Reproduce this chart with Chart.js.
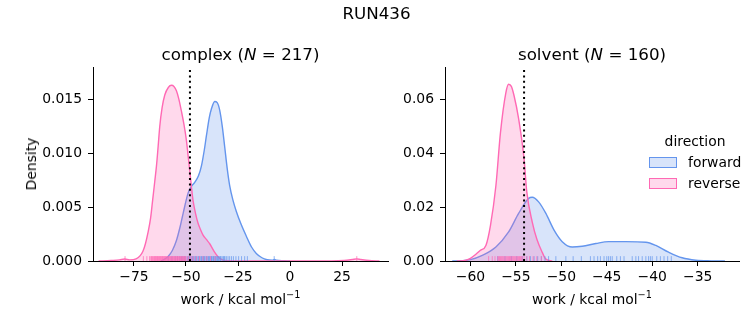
<!DOCTYPE html>
<html>
<head>
<meta charset="utf-8">
<script src="https://cdn.jsdelivr.net/npm/chart.js@4.4.1/dist/chart.umd.min.js"></script>
<style>
  body { margin: 0; width: 753px; height: 325px; position: relative; background: #fff; overflow: hidden;
         font-family: "DejaVu Sans", sans-serif; color: #000; }
  canvas { position: absolute; top: 0; }
  .txt { position: absolute; white-space: nowrap; transform: translate(-50%, -50%); font-size: 13.9px; }
  .title { font-size: 16.7px; }
  .lab { position: absolute; white-space: nowrap; font-size: 13.9px; transform: translateY(-50%); }
  .box { position: absolute; width: 26px; height: 9px; }
  sup { font-size: 9.7px; vertical-align: 6px; line-height: 0; }
</style>
</head>
<body>
<canvas id="complex" width="400" height="325" style="left:0"></canvas>
<canvas id="solvent" width="353" height="325" style="left:400px"></canvas>

<div class="txt title" style="left:376.5px; top:13px">RUN436</div>
<div class="txt title" style="left:240.5px; top:54px">complex (<i>N</i> = 217)</div>
<div class="txt title" style="left:592px; top:54px">solvent (<i>N</i> = 160)</div>
<div class="txt" style="left:31px; top:164px; transform:translate(-50%,-50%) rotate(-90deg)">Density</div>
<div class="txt" style="left:240.5px; top:299px">work / kcal mol<sup>−1</sup></div>
<div class="txt" style="left:592px; top:299px">work / kcal mol<sup>−1</sup></div>

<div class="txt" style="left:695px; top:141px">direction</div>
<div class="box" style="left:649px; top:157px; background:rgba(100,149,237,0.25); border:1px solid #6495ED"></div>
<div class="lab" style="left:688px; top:162px">forward</div>
<div class="box" style="left:649px; top:178px; background:rgba(255,105,180,0.25); border:1px solid #FF69B4"></div>
<div class="lab" style="left:688px; top:183px">reverse</div>

<script>
// courbes KDE (x = travail, y = densité)
const complexForwardX = [-62, -58.7, -56.5, -54.6, -52.8, -51.4, -49.0, -47.5, -45.8, -44.0, -42.6, -41.2, -40.2, -38.8, -37.8, -36.2, -35.0, -33.8, -32.5, -31.4, -30.2, -29.0, -27.5, -25.8, -23.5, -21.0, -18.5, -16.2, -13.5, -11.0, -8.5, -7.5, -6.5, -3, 0];
const complexForwardY = [0, 0.0004, 0.0010, 0.0019, 0.0032, 0.0044, 0.0063, 0.0069, 0.0073, 0.0079, 0.0088, 0.0103, 0.0116, 0.0133, 0.0141, 0.0148, 0.0147, 0.0140, 0.0124, 0.0106, 0.0086, 0.0070, 0.0057, 0.0046, 0.0034, 0.0023, 0.0013, 0.0007, 0.0003, 0.00012, 0.00008, 0.00015, 0.00008, 0.00002, 0];

const complexReverseX = [-92, -86, -82, -79.5, -77, -74, -72, -70.7, -69.5, -68.3, -67.0, -66.0, -65.0, -64.2, -63.4, -62.6, -61.5, -60.2, -58.5, -57.0, -55.8, -54.6, -53.4, -52.2, -51.0, -49.8, -49.0, -48.2, -47.4, -46.6, -45.4, -44.2, -43.0, -41.8, -40.2, -38.6, -36.5, -34.6, -32.5, -30, -20, 20, 26, 30, 32, 34, 38, 43];
const complexReverseY = [0, 0.00005, 0.0001, 0.00018, 0.0001, 0.0002, 0.0005, 0.0009, 0.0016, 0.0026, 0.0040, 0.0057, 0.0074, 0.0088, 0.0106, 0.0125, 0.0142, 0.0154, 0.0161, 0.0163, 0.0162, 0.0158, 0.0150, 0.0139, 0.0127, 0.0112, 0.0098, 0.0084, 0.0069, 0.0056, 0.0044, 0.0035, 0.0029, 0.0024, 0.0020, 0.0016, 0.0009, 0.0004, 0.0001, 0.00002, 0, 0, 0.00004, 0.00014, 0.0002, 0.00014, 0.00004, 0];

const solventForwardX = [-62, -61, -60.0, -58.7, -57.2, -55.8, -54.7, -53.6, -53.2, -52.5, -51.7, -50.8, -49.9, -48.8, -47.7, -46.2, -44.8, -42.9, -40.7, -39.6, -38.2, -36.7, -35.2, -33.5, -32];
const solventForwardY = [0, 0.0001, 0.0005, 0.0021, 0.0052, 0.0108, 0.0177, 0.0233, 0.0237, 0.0220, 0.0177, 0.0115, 0.0072, 0.0052, 0.0055, 0.0065, 0.0072, 0.0072, 0.0070, 0.0058, 0.0033, 0.0012, 0.0003, 0.00005, 0];

const solventReverseX = [-61.5, -60.5, -60.0, -59.4, -58.9, -58.3, -57.8, -57.2, -56.7, -56.1, -55.8, -55.5, -55.2, -54.7, -54.1, -53.8, -53.2, -52.7, -52.1, -51.7, -51.0];
const solventReverseY = [0, 0.0003, 0.0010, 0.0025, 0.0040, 0.0058, 0.0132, 0.0280, 0.0477, 0.0627, 0.0658, 0.0650, 0.0615, 0.0530, 0.0380, 0.0257, 0.0145, 0.0082, 0.0032, 0.0007, 0];

// valeurs individuelles (rug)
const complexForwardWork = [-58.5, -56.8, -55.2, -54.1, -53.0, -52.2, -51.5, -50.8, -50.1, -49.3, -48.7, -48.3, -47.9, -47.2, -46.8, -46.5, -45.8, -45.4, -45.0, -44.3, -43.9, -43.6, -42.9, -42.5, -42.2, -41.6, -41.3, -41.0, -40.4, -40.1, -39.8, -39.2, -38.9, -38.6, -38.0, -37.7, -37.5, -37.0, -36.7, -36.5, -36.0, -35.7, -35.5, -35.0, -34.7, -34.4, -33.8, -33.5, -33.2, -32.6, -32.0, -31.6, -31.3, -30.6, -29.8, -29.0, -28.1, -27.2, -26.0, -24.7, -23.3, -21.8, -20.5, -7.6];
const complexReverseWork = [-79.3, -70.5, -68.8, -67.5, -66.9, -66.6, -66.2, -65.9, -65.5, -65.2, -64.9, -64.6, -64.3, -64.0, -63.7, -63.4, -63.1, -62.8, -62.5, -62.2, -61.9, -61.6, -61.3, -61.0, -60.7, -60.4, -60.1, -59.8, -59.5, -59.2, -58.9, -58.6, -58.3, -58.0, -57.7, -57.4, -57.1, -56.8, -56.5, -56.2, -55.9, -55.6, -55.3, -55.0, -54.7, -54.4, -54.1, -53.8, -53.5, -53.2, -52.9, -52.6, -52.3, -52.0, -51.7, -51.4, -51.1, -50.8, -50.5, -50.2, -49.5, -48.8, -48.0, -47.2, -46.3, -45.0, -43.5, -41.8, -40.0, -38.2, -36.0, 32.1];
const solventForwardWork = [-57.0, -56.2, -55.5, -54.9, -54.3, -53.8, -53.4, -53.0, -52.6, -52.2, -51.8, -51.4, -50.6, -49.5, -48.7, -47.8, -46.8, -46.4, -46.0, -45.7, -45.3, -45.0, -44.8, -44.6, -44.4, -43.9, -43.5, -43.1, -42.2, -41.8, -41.5, -41.1, -40.7, -40.4, -40.2, -40.0, -39.5, -39.1, -38.7, -38.3, -37.9];
const solventReverseWork = [-58.0, -57.6, -57.3, -57.0, -56.9, -56.8, -56.7, -56.6, -56.5, -56.4, -56.3, -56.2, -56.1, -56.0, -55.9, -55.8, -55.7, -55.6, -55.5, -55.4, -55.3, -55.2, -55.1, -55.0, -54.9, -54.8, -54.7, -54.6, -54.5, -54.4, -54.3, -54.1, -53.8, -53.5, -53.1, -52.7, -52.2];

// estimation de l'énergie libre (ligne pointillée)
const complexEstimate = -48.1;
const solventEstimate = -54.1;

// axes
const complexXRange = [-94.7, 47.1];
const complexYMax = 0.018;
const complexXTicks = [-75, -50, -25, 0, 25];
const complexYTicks = [0, 0.005, 0.010, 0.015];
const solventXRange = [-62.8, -30.45];
const solventYMax = 0.0722;
const solventXTicks = [-60, -55, -50, -45, -40, -35];
const solventYTicks = [0, 0.02, 0.04, 0.06];

const BLUE = "#6495ED";
const PINK = "#FF69B4";
const FONT = { family: "DejaVu Sans", size: 13.9 };

function kde(xs, ys, color, fillColor, order) {
  return {
    data: xs.map((x, i) => ({ x: x, y: ys[i] })),
    borderColor: color,
    backgroundColor: fillColor,
    borderWidth: 1.4,
    fill: "origin",
    pointRadius: 0,
    cubicInterpolationMode: "monotone",
    order: order,
  };
}

function vline(x, ymax) {
  return {
    data: [{ x: x, y: 0 }, { x: x, y: ymax }],
    borderColor: "#000",
    borderWidth: 2,
    borderDash: [2, 3.4],
    pointRadius: 0,
    fill: false,
    order: 0,
  };
}

// plugin pour les petits traits du rug, dessinés après la courbe "reverse"
const rugPlugin = {
  id: "rug",
  afterDatasetDraw(chart, args, opts) {
    if (args.index !== 1) return;
    const ctx = chart.ctx;
    const xs = chart.scales.x;
    const area = chart.chartArea;
    const h = 0.025 * (area.bottom - area.top);
    ctx.save();
    ctx.lineWidth = 1;
    opts.rugs.forEach((r) => {
      ctx.strokeStyle = r.color;
      r.values.forEach((v) => {
        const px = xs.getPixelForValue(v);
        ctx.beginPath();
        ctx.moveTo(px, area.bottom);
        ctx.lineTo(px, area.bottom - h);
        ctx.stroke();
      });
    });
    ctx.restore();
  },
};

function makeChart(id, p) {
  const ctx = document.getElementById(id).getContext("2d");
  return new Chart(ctx, {
    type: "line",
    data: {
      datasets: [
        kde(p.fx, p.fy, BLUE, "rgba(100,149,237,0.25)", 2),
        kde(p.rx, p.ry, PINK, "rgba(255,105,180,0.25)", 1),
        vline(p.estimate, p.ymax),
      ],
    },
    plugins: [rugPlugin],
    options: {
      responsive: false,
      animation: false,
      devicePixelRatio: 1,
      layout: { padding: { top: 67, right: p.padRight, left: 0, bottom: 0 } },
      plugins: {
        legend: { display: false },
        tooltip: { enabled: false },
        rug: {
          rugs: [
            { values: p.fwork, color: "rgba(100,149,237,0.7)" },
            { values: p.rwork, color: "rgba(255,105,180,0.7)" },
          ],
        },
      },
      scales: {
        x: {
          type: "linear",
          min: p.xrange[0],
          max: p.xrange[1],
          afterBuildTicks: (s) => { s.ticks = p.xticks.map((v) => ({ value: v })); },
          afterFit: (s) => { s.height = 64; },
          grid: { drawOnChartArea: false, drawTicks: true, tickLength: 5, color: "#000", lineWidth: 1 },
          border: { display: true, color: "#000", width: 1 },
          ticks: {
            color: "#000", font: FONT, padding: 3, maxRotation: 0, autoSkip: false,
            callback: (v) => String(v).replace("-", "\u2212"),
          },
        },
        y: {
          type: "linear",
          min: 0,
          max: p.ymax,
          afterBuildTicks: (s) => { s.ticks = p.yticks.map((v) => ({ value: v })); },
          afterFit: (s) => { s.width = p.yWidth; },
          grid: { drawOnChartArea: false, drawTicks: true, tickLength: 5, color: "#000", lineWidth: 1 },
          border: { display: true, color: "#000", width: 1 },
          ticks: {
            color: "#000", font: FONT, padding: 6, autoSkip: false,
            callback: (v) => v.toFixed(p.decimals),
          },
        },
      },
    },
  });
}

makeChart("complex", {
  fx: complexForwardX, fy: complexForwardY,
  rx: complexReverseX, ry: complexReverseY,
  fwork: complexForwardWork, rwork: complexReverseWork,
  estimate: complexEstimate,
  xrange: complexXRange, ymax: complexYMax,
  xticks: complexXTicks, yticks: complexYTicks,
  decimals: 3, yWidth: 93, padRight: 12,
});

makeChart("solvent", {
  fx: solventForwardX, fy: solventForwardY,
  rx: solventReverseX, ry: solventReverseY,
  fwork: solventForwardWork, rwork: solventReverseWork,
  estimate: solventEstimate,
  xrange: solventXRange, ymax: solventYMax,
  xticks: solventXTicks, yticks: solventYTicks,
  decimals: 2, yWidth: 45, padRight: 14,
});
</script>
</body>
</html>
